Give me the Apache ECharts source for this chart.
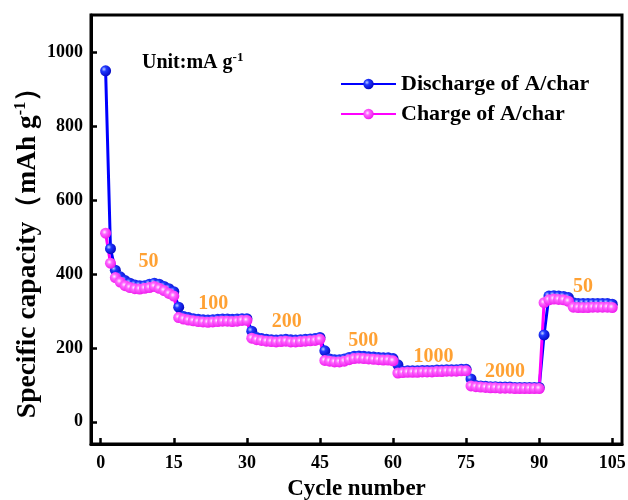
<!DOCTYPE html>
<html><head><meta charset="utf-8">
<script src="https://cdn.jsdelivr.net/npm/echarts@6/dist/echarts.min.js"></script>
<style>html,body{margin:0;padding:0;background:#fff}#c{width:628px;height:500px}</style>
</head><body><div id="c"></div>
<script>
const FONT = '"Liberation Serif","Times New Roman",serif';
// cycle index 1..105 (7 rate steps x 15 cycles)
const cycleNumbers = Array.from({length: 105}, (_, i) => i + 1);
const dischargeCapacity = [
  949, 468, 410, 392, 382, 375, 370, 368, 368, 372, 375, 372, 366, 360, 352,
  310, 285, 282, 279, 277, 276, 275, 276, 277, 278, 278, 277, 278, 279, 279,
  245, 228, 225, 223, 222, 221, 222, 223, 222, 221, 222, 223, 224, 225, 228,
  192, 170, 168, 168, 170, 174, 177, 178, 177, 176, 175, 174, 173, 173, 171,
  154, 137, 138, 138, 138, 139, 139, 139, 140, 140, 141, 141, 141, 142, 142,
  116,  98,  97,  96,  95,  95,  94,  94,  94,  93,  93,  93,  93,  93,  93,
  235, 340, 341, 340, 339, 336, 322, 320, 320, 320, 320, 320, 320, 320, 318
];
const chargeCapacity = [
  510, 429, 390, 378, 368, 363, 360, 359, 361, 363, 366, 361, 355, 347, 340,
  282, 278, 275, 273, 271, 270, 269, 270, 271, 272, 272, 271, 272, 274, 274,
  226, 222, 220, 218, 217, 216, 217, 218, 216, 216, 217, 218, 219, 220, 223,
  166, 164, 162, 162, 164, 168, 171, 172, 171, 170, 169, 168, 167, 167, 165,
  132, 133, 134, 134, 134, 135, 135, 135, 136, 136, 137, 137, 137, 138, 138,
   97,  95,  94,  93,  92,  92,  91,  91,  91,  90,  90,  90,  90,  90,  90,
  322, 330, 332, 331, 330, 326, 310, 309, 309, 309, 310, 310, 310, 310, 309
];
const xTickValues = [0, 15, 30, 45, 60, 75, 90, 105];
const yTickValues = [0, 200, 400, 600, 800, 1000];
const rateLabels = ['50', '100', '200', '500', '1000', '2000', '50'];
const rateLabelCycle = [9.8, 23.1, 38.2, 53.9, 68.3, 83.0, 99.0];
const rateLabelCapacity = [433, 320, 271, 219, 176, 135, 364];

const chart = echarts.init(document.getElementById('c'), null, {renderer: 'canvas'});
const blueBall = {type: 'radial', x: 0.35, y: 0.35, r: 0.75, colorStops: [
  {offset: 0, color: '#c0d0ff'}, {offset: 0.3, color: '#2038ff'}, {offset: 1, color: '#0000b8'}]};
const pinkBall = {type: 'radial', x: 0.4, y: 0.4, r: 0.75, colorStops: [
  {offset: 0, color: '#fff4ff'}, {offset: 0.28, color: '#ff66ff'}, {offset: 1, color: '#e800e8'}]};

const option = {
  animation: false,
  backgroundColor: '#fff',
  grid: {left: 91, right: 6, top: 15, bottom: 56, show: true, borderColor: '#000', borderWidth: 3,
    containLabel: false, outerBoundsMode: 'none'},
  xAxis: {
    type: 'value', min: -2, max: 107,
    name: 'Cycle number', nameLocation: 'middle', nameGap: 34,
    nameTextStyle: {fontFamily: FONT, fontWeight: 'bold', fontSize: 23, color: '#000'},
    axisLine: {show: true, onZero: false, lineStyle: {color: '#000', width: 3}},
    axisTick: {show: true, inside: true, length: 6, customValues: xTickValues, lineStyle: {color: '#000', width: 2.5}},
    axisLabel: {customValues: xTickValues, margin: 10, fontFamily: FONT, fontWeight: 'bold', fontSize: 18, color: '#000'},
    splitLine: {show: false}
  },
  yAxis: {
    type: 'value', min: -60, max: 1100,
    axisLine: {show: true, onZero: false, lineStyle: {color: '#000', width: 3}},
    axisTick: {show: true, inside: true, length: 6, customValues: yTickValues, lineStyle: {color: '#000', width: 2.5}},
    axisLabel: {customValues: yTickValues, formatter: v => String(v), margin: 8, fontFamily: FONT, fontWeight: 'bold', fontSize: 18, color: '#000'},
    splitLine: {show: false}
  },
  legend: {
    data: ['Discharge of A/char', 'Charge of A/char'],
    orient: 'vertical', left: 335, top: 68, itemWidth: 55, itemHeight: 13, itemGap: 8,
    textStyle: {fontFamily: FONT, fontWeight: 'bold', fontSize: 22, color: '#000'}
  },
  series: [
    {
      name: 'Discharge of A/char', type: 'line',
      data: cycleNumbers.map((c, i) => [c, dischargeCapacity[i]]),
      symbol: 'circle', symbolSize: 11, showAllSymbol: true,
      lineStyle: {color: '#0000ff', width: 3},
      itemStyle: {color: blueBall}
    },
    {
      name: 'Charge of A/char', type: 'line',
      data: cycleNumbers.map((c, i) => [c, chargeCapacity[i]]),
      symbol: 'circle', symbolSize: 11, showAllSymbol: true,
      lineStyle: {color: '#ff00ff', width: 3},
      itemStyle: {color: pinkBall}
    },
    {
      name: 'rates', type: 'scatter', symbolSize: 0, silent: true,
      data: rateLabels.map((t, i) => [rateLabelCycle[i], rateLabelCapacity[i], t]),
      label: {show: true, position: 'inside', formatter: p => p.data[2],
        fontFamily: FONT, fontWeight: 'bold', fontSize: 20, color: '#FF8A00'}
    }
  ],
  graphic: [
    {
      type: 'text', x: 28, y: 246, rotation: Math.PI / 2,
      style: {
        text: '{n|Specific capacity（mAh g}{s|-1}{n|）}',
        align: 'center', verticalAlign: 'middle',
        rich: {
          n: {fontFamily: FONT, fontWeight: 'bold', fontSize: 27.5, lineHeight: 31, fill: '#000'},
          s: {fontFamily: FONT, fontWeight: 'bold', fontSize: 16, lineHeight: 16, verticalAlign: 'top', fill: '#000'}
        }
      }
    },
    {
      type: 'text', x: 142, y: 63,
      style: {
        text: '{n|Unit:mA g}{s|-1}',
        align: 'left', verticalAlign: 'middle',
        rich: {
          n: {fontFamily: FONT, fontWeight: 'bold', fontSize: 20, lineHeight: 24, fill: '#000'},
          s: {fontFamily: FONT, fontWeight: 'bold', fontSize: 13, lineHeight: 13, verticalAlign: 'top', fill: '#000'}
        }
      }
    }
  ]
};
chart.setOption(option);
</script>
</body></html>
